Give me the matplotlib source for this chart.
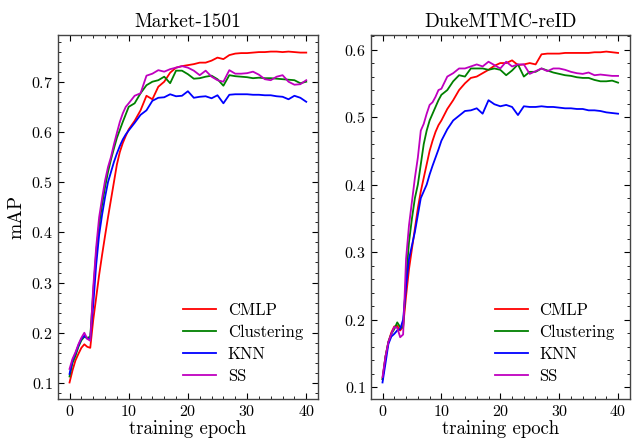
import numpy as np
import matplotlib
matplotlib.use('Agg')
import matplotlib.pyplot as plt
from matplotlib.ticker import MultipleLocator

plt.rcParams['font.family'] = 'serif'
plt.rcParams['font.serif'] = ['cmr10']
plt.rcParams['mathtext.fontset'] = 'cm'
plt.rcParams['axes.formatter.use_mathtext'] = True

# epochs: half-epoch steps during the fast rise, then whole epochs
epochs = [0, 0.5, 1, 1.5, 2, 2.5, 3, 3.5, 4, 4.5, 5, 5.5, 6, 6.5, 7, 7.5, 8, 8.5, 9, 9.5, 10,
          11, 12, 13, 14, 15, 16, 17, 18, 19, 20, 21, 22, 23, 24, 25, 26, 27, 28, 29, 30,
          31, 32, 33, 34, 35, 36, 37, 38, 39, 40]

methods = ['CMLP', 'Clustering', 'KNN', 'SS']
colors = ['r', 'g', 'b', 'm']

# Market-1501 mAP
market_cmlp = [0.101, 0.125, 0.145, 0.158, 0.170, 0.177, 0.172, 0.170, 0.225, 0.27, 0.315, 0.355, 0.393, 0.43,
               0.465, 0.50, 0.535, 0.56, 0.578, 0.592, 0.605,
               0.622, 0.643, 0.672, 0.665, 0.69, 0.70, 0.718, 0.728, 0.731, 0.733, 0.735, 0.738, 0.738, 0.742,
               0.748, 0.745, 0.753, 0.756, 0.757, 0.757, 0.758, 0.759, 0.759, 0.760, 0.760, 0.759, 0.760,
               0.759, 0.758, 0.758]
market_clust = [0.113, 0.14, 0.154, 0.172, 0.185, 0.192, 0.19, 0.192, 0.28, 0.36, 0.415, 0.455, 0.49, 0.52,
                0.545, 0.567, 0.588, 0.604, 0.62, 0.635, 0.65,
                0.657, 0.677, 0.693, 0.70, 0.703, 0.71, 0.697, 0.722, 0.722, 0.715, 0.706, 0.707, 0.71, 0.712,
                0.705, 0.692, 0.713, 0.711, 0.71, 0.709, 0.707, 0.708, 0.707, 0.707, 0.706, 0.705, 0.704,
                0.703, 0.697, 0.70]
market_knn = [0.118, 0.145, 0.159, 0.175, 0.188, 0.194, 0.188, 0.188, 0.255, 0.335, 0.395, 0.435, 0.47, 0.50,
              0.52, 0.54, 0.557, 0.572, 0.585, 0.595, 0.603,
              0.618, 0.634, 0.643, 0.662, 0.668, 0.669, 0.675, 0.671, 0.672, 0.681, 0.668, 0.67, 0.671, 0.667,
              0.673, 0.657, 0.674, 0.675, 0.675, 0.675, 0.674, 0.674, 0.673, 0.673, 0.671, 0.670, 0.665,
              0.672, 0.668, 0.66]
market_ss = [0.128, 0.148, 0.161, 0.177, 0.19, 0.200, 0.188, 0.184, 0.29, 0.37, 0.43, 0.468, 0.503, 0.53,
             0.55, 0.575, 0.598, 0.62, 0.637, 0.65, 0.657,
             0.672, 0.677, 0.712, 0.716, 0.723, 0.72, 0.725, 0.728, 0.731, 0.728, 0.722, 0.713, 0.722, 0.71,
             0.703, 0.70, 0.723, 0.716, 0.716, 0.717, 0.72, 0.714, 0.705, 0.703, 0.71, 0.713, 0.70,
             0.694, 0.695, 0.703]

# DukeMTMC-reID mAP
duke_cmlp = [0.112, 0.145, 0.167, 0.181, 0.19, 0.191, 0.184, 0.19, 0.235, 0.275, 0.305, 0.335, 0.365, 0.39,
             0.41, 0.43, 0.45, 0.465, 0.478, 0.488, 0.495,
             0.512, 0.525, 0.54, 0.55, 0.558, 0.56, 0.565, 0.57, 0.576, 0.58, 0.58, 0.584, 0.577, 0.578,
             0.58, 0.578, 0.593, 0.594, 0.594, 0.594, 0.595, 0.595, 0.595, 0.595, 0.595, 0.596, 0.596,
             0.597, 0.596, 0.595]
duke_clust = [0.112, 0.145, 0.167, 0.179, 0.186, 0.196, 0.189, 0.188, 0.26, 0.315, 0.35, 0.38, 0.40, 0.43,
              0.46, 0.48, 0.495, 0.505, 0.515, 0.525, 0.533,
              0.54, 0.553, 0.562, 0.56, 0.572, 0.572, 0.572, 0.57, 0.572, 0.570, 0.562, 0.569, 0.578, 0.56,
              0.567, 0.567, 0.572, 0.569, 0.566, 0.564, 0.562, 0.561, 0.559, 0.558, 0.558, 0.555, 0.553,
              0.553, 0.554, 0.551]
duke_knn = [0.107, 0.135, 0.164, 0.175, 0.179, 0.184, 0.186, 0.20, 0.25, 0.29, 0.31, 0.33, 0.355, 0.38,
            0.39, 0.40, 0.415, 0.428, 0.44, 0.452, 0.465,
            0.482, 0.495, 0.502, 0.509, 0.51, 0.513, 0.505, 0.525, 0.519, 0.516, 0.518, 0.515, 0.503, 0.516,
            0.515, 0.515, 0.516, 0.515, 0.515, 0.514, 0.513, 0.513, 0.512, 0.512, 0.51, 0.51, 0.509,
            0.507, 0.506, 0.505]
duke_ss = [0.115, 0.145, 0.167, 0.179, 0.189, 0.188, 0.174, 0.178, 0.29, 0.34, 0.375, 0.41, 0.44, 0.48,
           0.49, 0.505, 0.518, 0.522, 0.53, 0.54, 0.542,
           0.56, 0.565, 0.572, 0.572, 0.575, 0.578, 0.575, 0.582, 0.577, 0.572, 0.582, 0.575, 0.578, 0.578,
           0.564, 0.568, 0.572, 0.568, 0.572, 0.572, 0.57, 0.567, 0.565, 0.564, 0.566, 0.562, 0.563,
           0.562, 0.561, 0.561]

panels = [
    ('Market-1501', [market_cmlp, market_clust, market_knn, market_ss]),
    ('DukeMTMC-reID', [duke_cmlp, duke_clust, duke_knn, duke_ss]),
]

fig = plt.figure(figsize=(6.32, 4.38), dpi=100)
ax1 = fig.add_axes([0.0913, 0.089, 0.412, 0.831])
ax2 = fig.add_axes([0.5866, 0.089, 0.410, 0.831])

for ax, (title, series) in zip([ax1, ax2], panels):
    for name, vals, c in zip(methods, series, colors):
        ax.plot(epochs, vals, color=c, lw=1.3, label=name)
    ax.set_title(title, fontsize=14)
    ax.set_xlabel('training epoch', fontsize=13.5, labelpad=1)
    ax.xaxis.set_major_locator(MultipleLocator(10))
    ax.xaxis.set_minor_locator(MultipleLocator(2))
    ax.yaxis.set_major_locator(MultipleLocator(0.1))
    ax.yaxis.set_minor_locator(MultipleLocator(0.02))
    ax.tick_params(which='both', direction='in', top=True, right=True, labelsize=11.5)
    ax.tick_params(which='major', length=4, width=0.8)
    ax.tick_params(which='minor', length=2, width=0.6)
    for s in ax.spines.values():
        s.set_linewidth(1.0)
        s.set_color('#444444')
    ax.legend(loc='lower right', frameon=False, fontsize=12, handlelength=2.0,
              handletextpad=0.7, labelspacing=0.4, borderaxespad=0.5)

ax1.set_ylabel('mAP', fontsize=14)

plt.savefig('out.png', dpi=100)
